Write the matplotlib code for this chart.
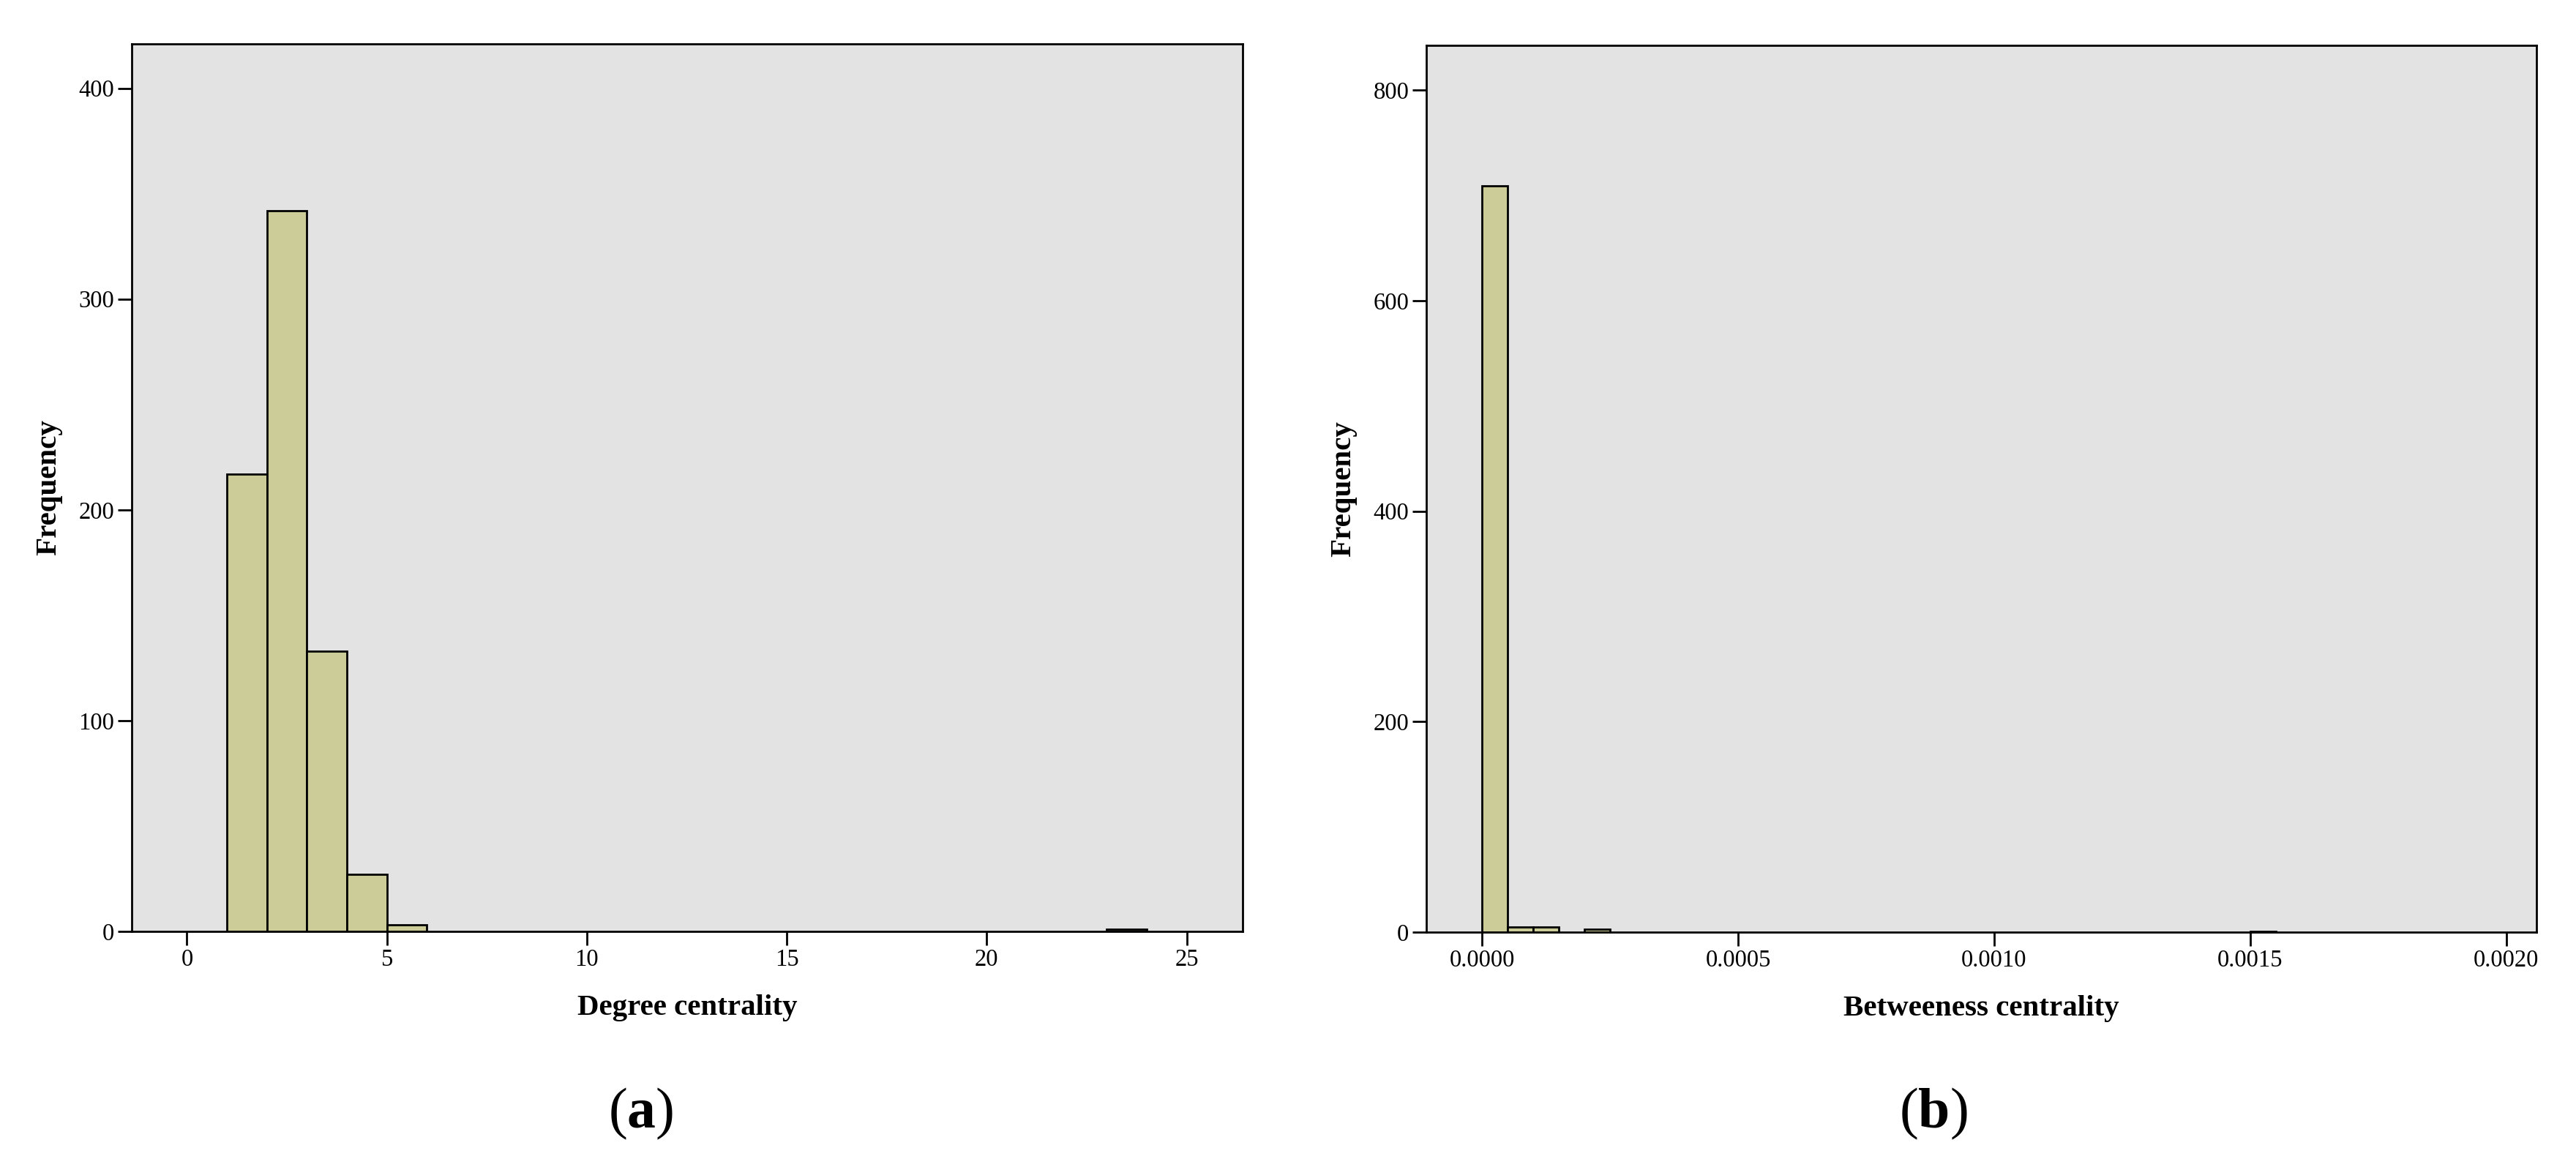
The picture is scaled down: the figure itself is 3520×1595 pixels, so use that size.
import numpy as np
import matplotlib
matplotlib.use("Agg")
import matplotlib.pyplot as plt

plt.rcParams['font.family'] = ['Liberation Serif', 'DejaVu Serif']
plt.rcParams['mathtext.fontset'] = 'custom'
plt.rcParams['mathtext.rm'] = 'Liberation Serif'
plt.rcParams['mathtext.bf'] = 'Liberation Serif:bold'

# Degree centrality histogram (bin left edges, width 1)
degree_bins = [1, 2, 3, 4, 5, 23]
degree_counts = [217, 342, 133, 27, 3, 1]
degree_width = 1.0
degree_ticks = [0, 5, 10, 15, 20, 25]
degree_yticks = [0, 100, 200, 300, 400]

# Betweenness centrality histogram (bin left edges, width 0.00005)
betw_bins = [0.0, 0.00005, 0.0001, 0.0002, 0.0015]
betw_counts = [709, 5, 5, 3, 1]
betw_width = 0.00005
betw_ticks = [0.0, 0.0005, 0.0010, 0.0015, 0.0020]
betw_yticks = [0, 200, 400, 600, 800]

bg = '#e3e3e3'
barcol = '#cccc99'

fig = plt.figure(figsize=(35.2, 15.95), dpi=100)
ax1 = fig.add_axes([0.05114, 0.20188, 0.43125, 0.7605])
ax2 = fig.add_axes([0.55369, 0.20125, 0.43097, 0.7599])


def style(ax):
    ax.set_facecolor(bg)
    for s in ax.spines.values():
        s.set_linewidth(2.0)
    ax.tick_params(axis='both', length=13.5, width=2.0, labelsize=23.5, pad=3.5)


# (a)
ax1.bar(degree_bins, degree_counts, width=degree_width, align='edge',
        color=barcol, edgecolor='black', linewidth=2.0)
ax1.set_xlim(-1.38, 26.4)
ax1.set_ylim(0, 421)
ax1.set_xticks(degree_ticks)
ax1.set_yticks(degree_yticks)
ax1.set_xlabel("Degree centrality", fontsize=29.5, fontweight='bold', labelpad=23)
ax1.set_ylabel("Frequency", fontsize=29.5, fontweight='bold', labelpad=16)
style(ax1)

# (b)
ax2.bar(betw_bins, betw_counts, width=betw_width, align='edge',
        color=barcol, edgecolor='black', linewidth=2.0)
ax2.set_xlim(-0.000109, 0.002059)
ax2.set_ylim(0, 842.6)
ax2.set_xticks(betw_ticks)
ax2.set_xticklabels(["%.4f" % t for t in betw_ticks])
ax2.set_yticks(betw_yticks)
ax2.set_xlabel("Betweeness centrality", fontsize=29.5, fontweight='bold', labelpad=23)
ax2.set_ylabel("Frequency", fontsize=29.5, fontweight='bold', labelpad=16)
style(ax2)

# panel letters
fig.text(876/3520, 1 - 1522/1595, r"($\mathbf{a}$)", fontsize=56, ha='center', va='center')
fig.text(2642/3520, 1 - 1522/1595, r"($\mathbf{b}$)", fontsize=56, ha='center', va='center')

fig.savefig("out.png", dpi=100)
